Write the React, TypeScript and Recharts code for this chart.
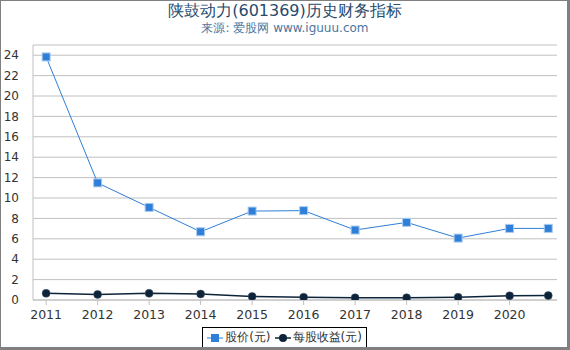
import React from "react";
import { LineChart, Line, XAxis, YAxis, CartesianGrid } from "recharts";

const years = [2011, 2012, 2013, 2014, 2015, 2016, 2017, 2018, 2019, 2020, 2020.75];
const price = [23.83, 11.48, 9.08, 6.69, 8.72, 8.76, 6.86, 7.61, 6.07, 7.02, 7.02];
const eps = [0.65, 0.55, 0.65, 0.59, 0.35, 0.27, 0.22, 0.22, 0.27, 0.41, 0.43];
const xTicks = [2011, 2012, 2013, 2014, 2015, 2016, 2017, 2018, 2019, 2020];
const yTicks = [0, 2, 4, 6, 8, 10, 12, 14, 16, 18, 20, 22, 24];

const data = years.map((year, i) => ({ year, price: price[i], eps: eps[i] }));

const FONT = "'DejaVu Sans', sans-serif";
const BLUE = "#2f7ed8";
const NAVY = "#0d233a";

const SquareDot = (props: any) => {
  const { cx, cy, index } = props;
  return (
    <rect key={`sq-${index}`} x={cx - 4} y={cy - 4} width={8} height={8}
      fill={BLUE} stroke="#a9cbf0" strokeWidth={1} />
  );
};

const CircleDot = (props: any) => {
  const { cx, cy, index } = props;
  return <circle key={`ci-${index}`} cx={cx} cy={cy} r={4} fill={NAVY} stroke="#44566a" strokeWidth={0.5} />;
};

export default function App() {
  return (
    <div style={{ position: "absolute", left: 0, top: 0, width: 570, height: 350, background: "#fff", fontFamily: FONT }}>
      <div style={{ position: "absolute", left: 0, top: 1, width: 570, textAlign: "center", fontSize: 16, color: "#274b6d" }}>
        陕鼓动力(601369)历史财务指标
      </div>
      <div style={{ position: "absolute", left: 0, top: 20, width: 570, textAlign: "center", fontSize: 12, color: "#4d759e" }}>
        来源: 爱股网 www.iguuu.com
      </div>
      <div style={{ position: "absolute", left: 0, top: 0 }}>
        <LineChart width={570} height={350} data={data} margin={{ top: 45, right: 13, bottom: 20, left: 0 }}>
          <CartesianGrid horizontal vertical={false} stroke="#c0c0c0" strokeWidth={1} />
          <XAxis
            dataKey="year"
            type="number"
            domain={[2010.745, 2020.92]}
            ticks={xTicks}
            allowDataOverflow
            height={30}
            stroke="#c0c0c0"
            tickSize={5}
            tickMargin={5}
            tick={{ fontSize: 12.5, fill: "#333", fontFamily: FONT }}
          />
          <YAxis
            width={33}
            domain={[0, 25]}
            ticks={yTicks}
            allowDataOverflow
            stroke="#c0c0c0"
            tickLine={false}
            tickMargin={8}
            tick={{ fontSize: 12, fill: "#333", fontFamily: FONT }}
            interval={0}
          />
          <Line dataKey="price" stroke={BLUE} strokeWidth={1} dot={SquareDot} isAnimationActive={false} />
          <Line dataKey="eps" stroke={NAVY} strokeWidth={1.5} dot={CircleDot} isAnimationActive={false} />
        </LineChart>
      </div>
      <div style={{
        position: "absolute", left: 202, top: 327, width: 165, height: 21, boxSizing: "border-box",
        border: "1px solid #000", display: "flex", alignItems: "center", justifyContent: "center",
        fontSize: 12, color: "#333", whiteSpace: "nowrap",
      }}>
        <svg width={16} height={10} style={{ marginRight: 2 }}>
          <line x1={0} y1={5} x2={16} y2={5} stroke={BLUE} strokeWidth={1} />
          <rect x={4} y={1} width={8} height={8} fill={BLUE} />
        </svg>
        <span style={{ marginRight: 4 }}>股价(元)</span>
        <svg width={16} height={10} style={{ marginRight: 2 }}>
          <line x1={0} y1={5} x2={16} y2={5} stroke={NAVY} strokeWidth={1.5} />
          <circle cx={8} cy={5} r={4} fill={NAVY} />
        </svg>
        <span>每股收益(元)</span>
      </div>
      <div style={{
        position: "absolute", left: 0, top: 0, width: 570, height: 350, boxSizing: "border-box",
        borderTop: "1px solid #808080", borderLeft: "1px solid #808080",
        borderRight: "3px solid #808080", borderBottom: "3px solid #808080", pointerEvents: "none",
      }} />
    </div>
  );
}
